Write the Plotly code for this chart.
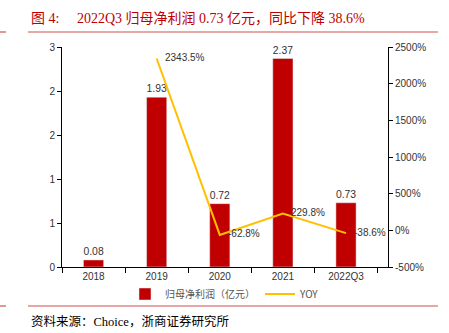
import plotly.graph_objects as go

categories = ["2018", "2019", "2020", "2021", "2022Q3"]
profit = [0.08, 1.93, 0.72, 2.37, 0.73]
yoy = [None, 2343.5, -62.8, 229.8, -38.6]
left_tickvals = [0, 0.5, 1, 1.5, 2, 2.5]
left_ticktext = ["0", "1", "1", "2", "2", "3"]
right_tickvals = [-500, 0, 500, 1000, 1500, 2000, 2500]

W, H = 449, 333
L, R, T, B = 62, 388, 47, 267

def px(x):
    return (x - L) / (R - L)

def py(y):
    return (B - y) / (B - T)

fig = go.Figure()
fig.add_trace(go.Bar(
    x=categories, y=profit, name="归母净利润（亿元）",
    marker_color="#C00000", width=0.32,
    text=[f"{v:.2f}" for v in profit], textposition="outside",
    textfont=dict(size=11, color="#333333", family="Liberation Sans"),
    cliponaxis=False,
))
fig.add_trace(go.Scatter(
    x=categories, y=yoy, name="YOY", yaxis="y2", mode="lines",
    line=dict(color="#FFC000", width=2),
    cliponaxis=False,
))
for i, v in enumerate(yoy):
    if v is None:
        continue
    fig.add_annotation(x=i, y=v, xref="x", yref="y2", text=f"{v:.1f}%",
                       showarrow=False, xanchor="left", yanchor="middle",
                       xshift=6, yshift=1,
                       font=dict(size=10, color="#333333", family="Liberation Sans"))

axis_font = dict(size=10, color="#333333", family="Liberation Sans")
fig.update_layout(
    width=W, height=H,
    margin=dict(l=L, r=W - R, t=T, b=H - B),
    paper_bgcolor="white", plot_bgcolor="white",
    showlegend=True,
    legend=dict(orientation="h", x=0.5, xanchor="center", y=py(294), yanchor="middle",
                font=dict(size=10, color="#555555", family="Noto Sans CJK SC"),
                itemwidth=30, bgcolor="rgba(0,0,0,0)", tracegroupgap=0),
    xaxis=dict(type="category", categoryarray=categories, categoryorder="array",
               showline=True, linecolor="black", linewidth=1,
               ticks="outside", tickson="boundaries", ticklen=5, tickcolor="black",
               tickfont=axis_font, showgrid=False, zeroline=False),
    yaxis=dict(range=[0, 2.5], tickvals=left_tickvals, ticktext=left_ticktext,
               showline=True, linecolor="black", linewidth=1, ticks="outside",
               ticklen=4, tickcolor="black", tickfont=axis_font, showgrid=False,
               zeroline=False),
    yaxis2=dict(range=[-500, 2500], tickvals=right_tickvals,
                ticktext=[f"{v}%" for v in right_tickvals],
                overlaying="y", side="right", showline=True, linecolor="black",
                linewidth=1, ticks="outside", ticklen=4, tickcolor="black",
                tickfont=axis_font, showgrid=False, zeroline=False),
)

red_line = "#D0504D"
for y in (32, 306):
    fig.add_shape(type="line", xref="paper", yref="paper",
                  x0=px(28), x1=px(438), y0=py(y), y1=py(y),
                  line=dict(color=red_line, width=1.2))
    fig.add_shape(type="line", xref="paper", yref="paper",
                  x0=px(0), x1=px(6), y0=py(y), y1=py(y),
                  line=dict(color=red_line, width=1.2))

fig.add_annotation(xref="paper", yref="paper", x=px(29), y=py(18),
                   xanchor="left", yanchor="middle", showarrow=False,
                   text="图 4:&nbsp;&nbsp;&nbsp;&nbsp; 2022Q3 归母净利润 0.73 亿元，同比下降 38.6%",
                   font=dict(size=14, color="#C00000",
                             family="Liberation Serif, Noto Sans CJK SC"))
fig.add_annotation(xref="paper", yref="paper", x=px(29), y=py(321),
                   xanchor="left", yanchor="middle", showarrow=False,
                   text="资料来源：Choice，浙商证券研究所",
                   font=dict(size=12.5, color="#000000",
                             family="Liberation Serif, Noto Sans CJK SC"))

fig.write_html("out.html")
